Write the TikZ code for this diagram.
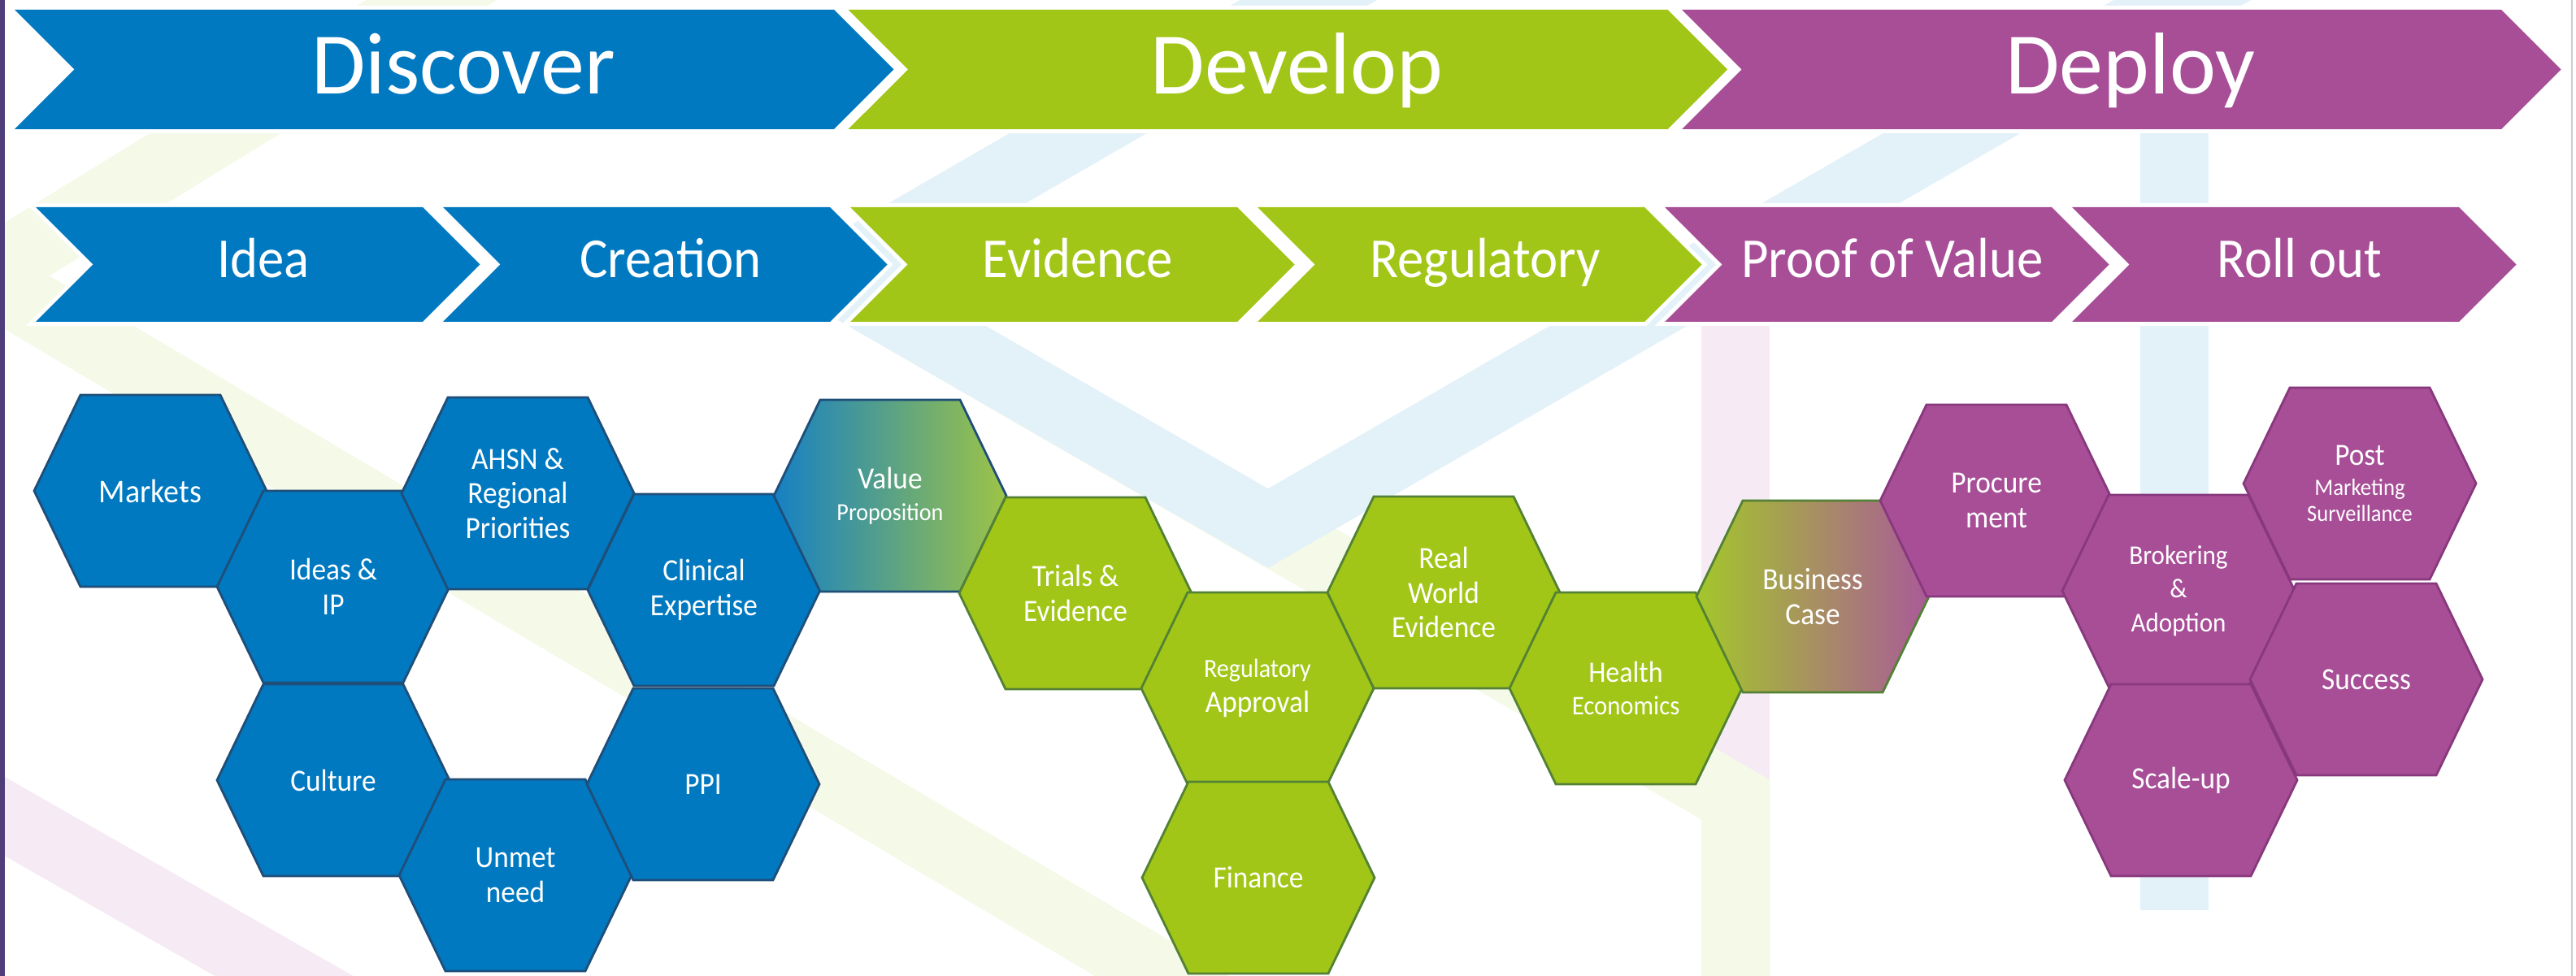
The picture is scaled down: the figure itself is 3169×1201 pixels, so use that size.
\documentclass[tikz,border=0pt]{standalone}
\usepackage{fontspec}
\setmainfont{Carlito}
\newfontfamily\condfont{Carlito}[FakeStretch=0.93]
\usepackage{tikz}
\usetikzlibrary{positioning}

\definecolor{tblue}{RGB}{0,121,193}
\definecolor{tgreen}{RGB}{162,198,23}
\definecolor{tpurple}{RGB}{167,78,151}
\definecolor{edgeblue}{RGB}{31,78,121}
\definecolor{edgegreen}{RGB}{83,129,53}
\definecolor{edgepurple}{RGB}{136,56,124}
\definecolor{lineblue}{RGB}{227,241,249}
\definecolor{linegreen}{RGB}{245,249,232}
\definecolor{linepink}{RGB}{246,235,244}
\definecolor{slideedge}{RGB}{80,62,122}
\definecolor{gradblue}{RGB}{22,128,196}
\definecolor{gradgreen}{RGB}{158,196,70}
\definecolor{gradlime}{RGB}{164,199,42}
\definecolor{gradmauve}{RGB}{170,90,152}

\begin{document}
\begin{tikzpicture}[x=0.01cm,y=-0.01cm,
  tube/.style={line width=0.845cm,line join=miter},
  stagebox/.style={preaction={draw=white,line width=0.1cm}},
  phaselabel/.style={anchor=base,text=white,inner sep=0pt,font=\fontsize{30.7}{36}\selectfont},
  stagelabel/.style={anchor=base,text=white,inner sep=0pt,font=\condfont\fontsize{19.8}{24}\selectfont},
  hexlabel/.style={align=center,text=white,inner sep=0pt,font=\condfont\fontsize{10.8}{12.1}\selectfont},
  hexblue/.style={fill=tblue,draw=edgeblue,line width=0.8pt},
  hexgreen/.style={fill=tgreen,draw=edgegreen,line width=0.8pt},
  hexpurple/.style={fill=tpurple,draw=edgepurple,line width=0.8pt},
  hexvalue/.style={left color=gradblue,right color=gradgreen,draw=edgeblue,line width=0.8pt},
  hexcase/.style={left color=gradlime,right color=gradmauve,draw=edgegreen,line width=0.8pt},
  hexcell/.pic={\path[pic actions] (-143,0) -- (-86,-118) -- (86,-118) -- (143,0) -- (86,118) -- (-86,118) -- cycle;}
]
\useasboundingbox (0,0) rectangle (3169,1201);

% faint tube lines behind everything
\begin{scope}
\clip (0,0) rectangle (3169,1201);
\draw[tube,linepink] (-200,887) -- (500,1287);
\draw[tube,linepink] (2135,300) -- (2135,984);
\draw[tube,linegreen] (596,-40) -- (-21,340) -- (1497,1241);
\draw[tube,linegreen] (1022,340) -- (2135,984) -- (2135,1241);
\draw[tube,lineblue] (1679,-40) -- (1022,340) -- (1560,650) -- (2754,-40);
\draw[tube,lineblue] (2675,-10) -- (2675,1120);
\end{scope}
\fill[slideedge] (0,0) rectangle (6,1201);
\draw[black!20,line width=0.02cm] (3164,0) -- (3164,1201);

\foreach \i/\txt/\col in {0/Discover/tblue,1/Develop/tgreen,2/Deploy/tpurple}{
  \path[stagebox,fill=\col] (18+1025.5*\i,12) -- ++(1008,0) -- ++(73.5,73.5) -- ++(-73.5,73.5) -- ++(-1008,0) -- ++(73.5,-73.5) -- cycle;
  \node[phaselabel] (phase\i) at (570+1025.5*\i,116) {\txt};
}
\foreach \i/\txt/\col in {0/Idea/tblue,1/Creation/tblue,2/Evidence/tgreen,3/Regulatory/tgreen,4/Proof of Value/tpurple,5/Roll out/tpurple}{
  \path[stagebox,fill=\col] (44+501*\i,255) -- ++(476,0) -- ++(70.5,70.5) -- ++(-70.5,70.5) -- ++(-476,0) -- ++(70.5,-70.5) -- cycle;
  \node[stagelabel] (stage\i) at (324+501*\i,342) {\txt};
}

\pic[hexblue] at (185,604) {hexcell};
\node[hexlabel,font=\condfont\fontsize{11.6}{13}\selectfont] (mkts) at (185,604) {Markets};
\pic[hexblue] at (410,722) {hexcell};
\node[hexlabel] (ideas) at (410,722) {Ideas \&\\IP};
\pic[hexblue] at (637,607) {hexcell};
\node[hexlabel] (ahsn) at (637,607) {AHSN \&\\Regional\\Priorities};
\pic[hexblue] at (866,726) {hexcell};
\node[hexlabel] (clin) at (866,726) {Clinical\\Expertise};
\pic[hexblue] at (410,960) {hexcell};
\node[hexlabel] (cult) at (410,960) {Culture};
\pic[hexblue] at (634,1077) {hexcell};
\node[hexlabel] (unmet) at (634,1077) {Unmet\\need};
\pic[hexblue] at (865,965) {hexcell};
\node[hexlabel] (ppi) at (865,965) {PPI};
\pic[hexvalue] at (1095,610) {hexcell};
\node[hexlabel] (valprop) at (1095,610) {Value\\[-1pt]{\fontsize{8.6}{10}\selectfont Proposition}};

\pic[hexgreen] at (1323,730) {hexcell};
\node[hexlabel] (trials) at (1323,730) {Trials \&\\Evidence};
\pic[hexgreen] at (1547,847) {hexcell};
\node[hexlabel] (regapp) at (1547,847) {{\fontsize{9.2}{11}\selectfont Regulatory}\\Approval};
\pic[hexgreen] at (1548,1080) {hexcell};
\node[hexlabel] (fin) at (1548,1080) {Finance};
\pic[hexgreen] at (1776,729) {hexcell};
\node[hexlabel] (rwe) at (1776,729) {Real\\World\\Evidence};
\pic[hexgreen] at (2000,847) {hexcell};
\node[hexlabel] (heco) at (2000,847) {{\fontsize{10.4}{12}\selectfont Health}\\[-0.7pt]{\fontsize{9.4}{11}\selectfont Economics}};
\pic[hexcase] at (2230,734) {hexcell};
\node[hexlabel] (bcase) at (2230,734) {Business\\Case};

\pic[hexpurple] at (2456,616) {hexcell};
\node[hexlabel] (proc) at (2456,616) {Procure\\ment};
\pic[hexpurple] at (2680,727) {hexcell};
\node[hexlabel,font=\condfont\fontsize{9.5}{11.7}\selectfont] (broker) at (2680,727) {Brokering\\\&\\Adoption};
\pic[hexpurple] at (2903,595) {hexcell};
\node[hexlabel] (pms) at (2903,595) {Post\\[-1.6pt]{\fontsize{8.2}{9.5}\selectfont Marketing}\\[-3pt]{\fontsize{8.1}{9.5}\selectfont Surveillance}};
\pic[hexpurple] at (2911,836) {hexcell};
\node[hexlabel] (succ) at (2911,836) {Success};
\pic[hexpurple] at (2683,960) {hexcell};
\node[hexlabel] (scale) at (2683,960) {Scale-up};
\end{tikzpicture}
\end{document}
